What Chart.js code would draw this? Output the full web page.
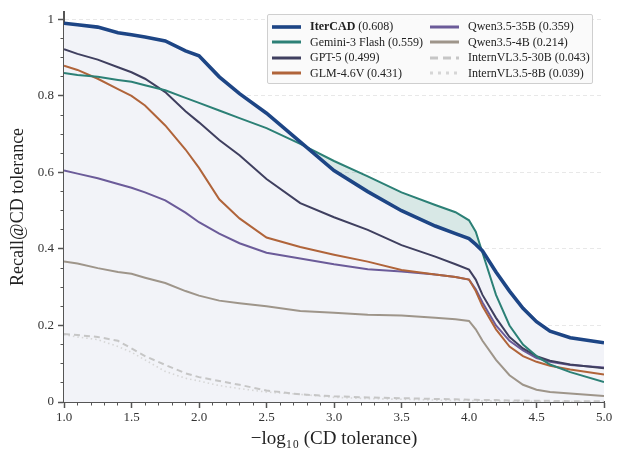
<!DOCTYPE html>
<html>
<head>
<meta charset="utf-8">
<script src="https://cdn.jsdelivr.net/npm/chart.js@4.4.1/dist/chart.umd.min.js"></script>
<style>
  body { margin: 0; background: #fff; }
  #wrap { position: relative; width: 623px; height: 450px; }
  #legend {
    position: absolute; left: 267px; top: 14px; width: 326px; height: 70px;
    box-sizing: border-box; border: 1px solid #cfcfcf; background: rgba(250,250,250,0.92);
    border-radius: 2px; padding: 4px 0 0 4px;
    display: grid; grid-auto-flow: column; grid-template-rows: repeat(4, 15.5px);
    grid-template-columns: 158px 160px;
    font-family: 'Liberation Serif', 'Times New Roman', serif; font-size: 12px; color: #222;
  }
  .item { display: flex; align-items: center; white-space: nowrap; }
  .item svg { margin-right: 9px; flex: none; }
</style>
</head>
<body>
<div id="wrap"><canvas id="chart"></canvas><div id="legend"></div></div>
<script>
// -log10(CD tolerance) sample positions
const xs = [1.0, 1.1, 1.25, 1.4, 1.5, 1.6, 1.75, 1.9, 2.0, 2.15, 2.3, 2.5, 2.75, 3.0, 3.25, 3.5,
            3.75, 3.9, 4.0, 4.05, 4.1, 4.2, 4.3, 4.4, 4.5, 4.6, 4.75, 5.0];

const iterCad   = [0.990, 0.986, 0.980, 0.965, 0.960, 0.954, 0.944, 0.918, 0.905, 0.850, 0.806, 0.755, 0.680, 0.605, 0.550, 0.500,
                   0.460, 0.440, 0.427, 0.412, 0.395, 0.340, 0.290, 0.245, 0.210, 0.185, 0.168, 0.155];
const gemini    = [0.860, 0.855, 0.850, 0.842, 0.837, 0.828, 0.815, 0.795, 0.782, 0.762, 0.742, 0.716, 0.675, 0.630, 0.590, 0.548,
                   0.515, 0.496, 0.475, 0.445, 0.390, 0.280, 0.200, 0.150, 0.120, 0.098, 0.078, 0.052];
const gpt5      = [0.922, 0.910, 0.895, 0.875, 0.862, 0.845, 0.810, 0.760, 0.731, 0.685, 0.645, 0.583, 0.520, 0.483, 0.450, 0.410,
                   0.380, 0.360, 0.346, 0.320, 0.280, 0.220, 0.170, 0.140, 0.120, 0.108, 0.098, 0.088];
const glm       = [0.879, 0.868, 0.845, 0.818, 0.800, 0.775, 0.723, 0.660, 0.612, 0.530, 0.480, 0.430, 0.405, 0.385, 0.367, 0.345,
                   0.333, 0.327, 0.320, 0.290, 0.250, 0.190, 0.145, 0.120, 0.105, 0.095, 0.085, 0.072];
const qwen35b   = [0.605, 0.597, 0.585, 0.570, 0.560, 0.548, 0.527, 0.495, 0.470, 0.440, 0.415, 0.390, 0.375, 0.360, 0.347, 0.341,
                   0.333, 0.327, 0.320, 0.295, 0.260, 0.200, 0.160, 0.135, 0.115, 0.105, 0.097, 0.090];
const qwen4b    = [0.367, 0.362, 0.350, 0.340, 0.335, 0.325, 0.311, 0.290, 0.278, 0.265, 0.258, 0.250, 0.238, 0.233, 0.228, 0.226,
                   0.220, 0.216, 0.212, 0.190, 0.160, 0.110, 0.070, 0.045, 0.032, 0.026, 0.022, 0.016];
const intern30b = [0.178, 0.175, 0.170, 0.160, 0.140, 0.120, 0.097, 0.075, 0.065, 0.055, 0.045, 0.030, 0.020, 0.015, 0.012, 0.010,
                   0.008, 0.007, 0.006, 0.006, 0.005, 0.005, 0.004, 0.004, 0.003, 0.003, 0.002, 0.002];
const intern8b  = [0.176, 0.170, 0.163, 0.145, 0.130, 0.110, 0.080, 0.062, 0.055, 0.043, 0.035, 0.026, 0.020, 0.012, 0.009, 0.007,
                   0.005, 0.004, 0.004, 0.003, 0.003, 0.003, 0.002, 0.002, 0.002, 0.001, 0.001, 0.001];

const models = ['IterCAD', 'Gemini-3 Flash', 'GPT-5', 'GLM-4.6V', 'Qwen3.5-35B', 'Qwen3.5-4B', 'InternVL3.5-30B', 'InternVL3.5-8B'];
const scores = ['0.608', '0.559', '0.499', '0.431', '0.359', '0.214', '0.043', '0.039'];

const serif = "'Liberation Serif', 'Times New Roman', serif";
const toPts = arr => xs.map((x, i) => ({ x: x, y: arr[i] }));

function line(idx, values, color, width, extra) {
  return Object.assign({
    label: models[idx],
    data: toPts(values),
    borderColor: color,
    borderWidth: width,
    pointRadius: 0,
    tension: 0,
    fill: false
  }, extra || {});
}

const datasets = [
  line(0, iterCad, '#1d4585', 3.6, { fill: { target: 'origin', above: '#f2f3f8' } }),
  line(1, gemini, '#2c8076', 2, { fill: { target: 0, above: 'rgba(46,131,120,0.19)', below: 'rgba(0,0,0,0)' } }),
  line(2, gpt5, '#3f3f5f', 2),
  line(3, glm, '#b0643a', 2),
  line(4, qwen35b, '#6b5b99', 2),
  line(5, qwen4b, '#9e958a', 2),
  line(6, intern30b, '#c6c6c6', 2, { borderDash: [6, 4] }),
  line(7, intern8b, '#d6d6d6', 1.6, { borderDash: [1.5, 3] })
];

const tickFont = { family: serif, size: 13 };

const chart = new Chart(document.getElementById('chart'), {
  type: 'line',
  data: { datasets },
  options: {
    responsive: true,
    maintainAspectRatio: false,
    animation: false,
    layout: { padding: { left: 0, right: 19, top: 7, bottom: 0 } },
    plugins: {
      legend: { display: false },
      tooltip: { enabled: false },
      filler: { drawTime: 'beforeDatasetsDraw' }
    },
    scales: {
      x: {
        type: 'linear', min: 1, max: 5, weight: 1,
        ticks: { stepSize: 0.5, font: tickFont, color: '#333', padding: 2, maxRotation: 0,
                 callback: v => v.toFixed(1) },
        grid: { drawOnChartArea: false, tickColor: '#555', tickLength: 6, tickWidth: 1.5 },
        border: { color: '#555', width: 2 },
        title: { display: true, text: '\u2212log\u2081\u2080 (CD tolerance)', font: { family: serif, size: 19 },
                 color: '#222', padding: { top: 0, bottom: 0 } },
        afterFit: s => { s.height = 48; }
      },
      xMinor: {
        type: 'linear', position: 'bottom', min: 1, max: 5, weight: 0,
        ticks: { stepSize: 0.1, display: false },
        grid: { drawOnChartArea: false, tickColor: '#555', tickLength: 3.5, tickWidth: 1 },
        border: { display: false },
        afterFit: s => { s.height = 0; }
      },
      y: {
        type: 'linear', min: 0, max: 1.02, weight: 1,
        ticks: { stepSize: 0.2, includeBounds: false, font: tickFont, color: '#333', padding: 4,
                 callback: v => (v === 0 ? '0' : Math.abs(v - 1) < 1e-9 ? '1' : v.toFixed(1)) },
        grid: { color: '#e8e8e8', lineWidth: 1, tickColor: '#555', tickLength: 6, tickWidth: 1.5 },
        border: { color: '#555', width: 2, dash: [4, 3] },
        title: { display: true, text: 'Recall@CD tolerance', font: { family: serif, size: 18 },
                 color: '#222', padding: { top: 7, bottom: 0 } },
        afterFit: s => { s.width = 64; }
      },
      yMinor: {
        type: 'linear', position: 'left', min: 0, max: 1.02, weight: 0,
        ticks: { stepSize: 0.05, includeBounds: false, display: false },
        grid: { drawOnChartArea: false, tickColor: '#555', tickLength: 3.5, tickWidth: 1 },
        border: { display: false },
        afterFit: s => { s.width = 0; }
      }
    }
  }
});

// HTML legend, column-major like the original
const legend = document.getElementById('legend');
chart.data.datasets.forEach((ds, i) => {
  const item = document.createElement('div');
  item.className = 'item';
  const w = i === 0 ? 3.6 : 3;
  item.innerHTML =
    `<svg width="29" height="6"><line x1="0" y1="3" x2="29" y2="3" stroke="${ds.borderColor}" stroke-width="${w}"` +
    (ds.borderDash ? ` stroke-dasharray="${i === 6 ? '8,5' : '3,5'}"` : '') + `/></svg>` +
    `<span>${i === 0 ? '<b>' + ds.label + '</b>' : ds.label} (${scores[i]})</span>`;
  legend.appendChild(item);
});
</script>
</body>
</html>
